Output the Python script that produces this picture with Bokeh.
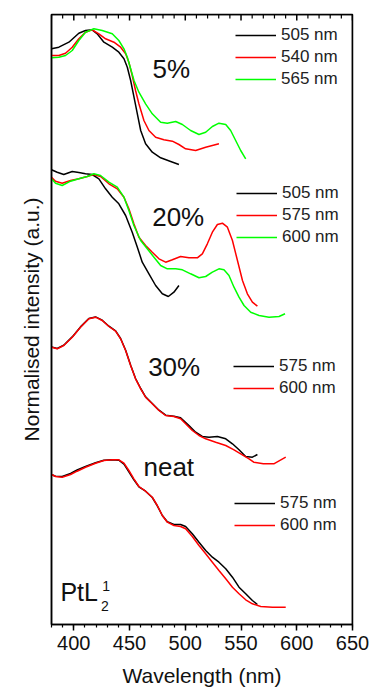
from bokeh.plotting import figure
from bokeh.models import Range1d, Legend, LegendItem, Label, Span
from bokeh.embed import file_html
from bokeh.resources import INLINE

BLACK = "#000000"
RED = "#ff0000"
GREEN = "#00ff00"
TXT = "#111111"

# ---------------- data (stacked normalised intensity, a.u.) ----------------
# 5 %
wl_5_505 = [380, 386.6, 395.6, 404.5, 410.5, 416.5, 421, 427, 434.5, 440.4, 445, 448, 451, 454, 457,
            460, 464.4, 470.4, 477.9, 486.9, 494.3]
in_5_505 = [5.757, 5.773, 5.823, 5.913, 5.94, 5.947, 5.907, 5.823, 5.773, 5.723, 5.657, 5.573, 5.44,
            5.273, 5.107, 4.94, 4.807, 4.723, 4.667, 4.63, 4.60]
wl_5_540 = [380, 386.6, 392.6, 398.6, 404.5, 410.5, 416.5, 422.5, 428.5, 436, 442, 446.5, 449.4, 452.4,
            455.4, 458.4, 462.9, 467.4, 473.4, 480.8, 488.4, 494.3, 500.3, 509.3, 518.3, 530.2]
in_5_540 = [5.69, 5.69, 5.713, 5.773, 5.857, 5.923, 5.947, 5.907, 5.857, 5.823, 5.773, 5.707, 5.623,
            5.49, 5.34, 5.207, 5.04, 4.94, 4.873, 4.847, 4.833, 4.80, 4.757, 4.74, 4.773, 4.807]
wl_5_565 = [380, 386.6, 392.6, 398.6, 404.5, 410.5, 418, 425.5, 434.5, 440.4, 445, 448, 451, 454, 458.4,
            464.4, 470.4, 477.9, 483.9, 491.4, 497.4, 504.8, 512.3, 518.3, 524.3, 530.2, 536.3, 540.7,
            545.2, 549.7, 554.2]
in_5_565 = [5.667, 5.673, 5.69, 5.74, 5.84, 5.923, 5.957, 5.94, 5.907, 5.84, 5.757, 5.673, 5.557, 5.44,
            5.323, 5.207, 5.107, 5.023, 5.013, 5.03, 5.00, 4.94, 4.90, 4.923, 4.98, 5.013, 5.00, 4.94,
            4.84, 4.74, 4.657]

# 20 %
wl_20_505 = [380, 385.1, 391, 398.6, 404.5, 410.5, 416.5, 422.5, 428.5, 434.5, 440.4, 446.5, 452.4, 457,
             461.4, 467.4, 473.4, 479.4, 484.8, 489.8, 494.3]
in_20_505 = [4.547, 4.523, 4.50, 4.53, 4.52, 4.507, 4.50, 4.457, 4.357, 4.273, 4.207, 4.09, 3.923, 3.773,
             3.623, 3.507, 3.39, 3.307, 3.28, 3.323, 3.39]
wl_20_575 = [380, 383.6, 389.6, 397.1, 404.5, 412, 418, 424, 431.5, 439, 445, 449.4, 453.9, 458.4, 464.4,
             470.4, 476.4, 482.4, 488.4, 495.8, 503.3, 510.8, 515.3, 519.8, 524.3, 528.8, 533.3, 537.8,
             542.3, 546.8, 551.3, 555.7, 560.2, 564.7]
in_20_575 = [4.473, 4.433, 4.413, 4.44, 4.457, 4.48, 4.50, 4.48, 4.407, 4.357, 4.273, 4.157, 4.007, 3.873,
             3.79, 3.723, 3.657, 3.623, 3.647, 3.68, 3.667, 3.667, 3.707, 3.807, 3.923, 4.00, 4.013, 3.973,
             3.84, 3.64, 3.44, 3.307, 3.223, 3.183]
wl_20_600 = [380, 383.6, 389.6, 397.1, 404.5, 412, 418, 424, 431.5, 439, 445, 449.4, 453.9, 460, 465.9,
             471.9, 477.9, 483.9, 491.4, 497.4, 504.8, 512.3, 518.3, 524.3, 530.2, 534.7, 539.2, 543.7,
             548.2, 552.7, 558.7, 566.2, 575.1, 584.1, 589.5]
in_20_600 = [4.457, 4.413, 4.39, 4.433, 4.457, 4.48, 4.507, 4.49, 4.423, 4.373, 4.273, 4.14, 3.99, 3.84,
             3.757, 3.673, 3.59, 3.557, 3.557, 3.547, 3.507, 3.467, 3.48, 3.523, 3.557, 3.547, 3.49, 3.373,
             3.273, 3.19, 3.123, 3.09, 3.073, 3.08, 3.107]

# 30 %
wl_30_575 = [380, 385.1, 391, 398.6, 406, 413.5, 419.5, 425.5, 431.5, 437.5, 442, 446.5, 451, 455.4, 460,
             464.4, 470.4, 476.4, 482.4, 489.8, 495.8, 503.3, 509.3, 515.3, 521.3, 528.8, 536.3, 542.3,
             548.2, 554.2, 560.2, 564.7]
in_30_575 = [2.776, 2.76, 2.793, 2.876, 2.976, 3.06, 3.076, 3.043, 2.983, 2.936, 2.86, 2.743, 2.593, 2.46,
             2.36, 2.276, 2.21, 2.143, 2.093, 2.083, 2.067, 1.99, 1.923, 1.88, 1.873, 1.88, 1.857, 1.807,
             1.747, 1.68, 1.673, 1.70]
wl_30_600 = [380, 385.1, 391, 398.6, 406, 413.5, 419.5, 425.5, 431.5, 437.5, 442, 446.5, 451, 455.4, 460,
             464.4, 470.4, 476.4, 482.4, 489.8, 495.8, 500.3, 506.3, 512.3, 518.3, 527.3, 536.3, 543.7,
             549.7, 557.2, 561.4, 570, 579.4, 590.1]
in_30_600 = [2.773, 2.757, 2.79, 2.873, 2.973, 3.057, 3.073, 3.04, 2.98, 2.933, 2.857, 2.74, 2.59, 2.457,
             2.357, 2.273, 2.207, 2.14, 2.09, 2.08, 2.057, 2.007, 1.94, 1.89, 1.857, 1.823, 1.79, 1.747,
             1.707, 1.657, 1.623, 1.607, 1.607, 1.673]

# neat
wl_n_575 = [380, 383.6, 389.6, 397.1, 403, 410.5, 419.5, 427, 434.5, 440.4, 445, 449.4, 453.9, 458.4,
            464.4, 470.4, 474.9, 479.4, 483.9, 489.8, 495.8, 500.3, 506.3, 512.3, 518.3, 524.3, 530.2,
            536.3, 542.3, 548.2, 554.2, 560.2, 564.7]
in_n_575 = [1.50, 1.483, 1.48, 1.51, 1.545, 1.58, 1.617, 1.643, 1.647, 1.643, 1.603, 1.527, 1.447, 1.377,
            1.333, 1.27, 1.187, 1.09, 1.027, 1.0, 1.0, 0.98, 0.907, 0.823, 0.74, 0.673, 0.623, 0.557,
            0.473, 0.373, 0.307, 0.24, 0.20]
wl_n_600 = [380, 383.6, 389.6, 397.1, 403, 410.5, 419.5, 427, 434.5, 440.4, 445, 449.4, 453.9, 458.4,
            464.4, 470.4, 474.9, 479.4, 483.9, 489.8, 495.8, 500.3, 506.3, 512.3, 518.3, 524.3, 530.2,
            536.3, 542.3, 548.2, 554.2, 560.2, 567.7, 578.2, 590.1]
in_n_600 = [1.50, 1.48, 1.473, 1.50, 1.533, 1.573, 1.613, 1.64, 1.647, 1.647, 1.613, 1.54, 1.457, 1.38,
            1.333, 1.273, 1.19, 1.09, 1.023, 0.99, 0.98, 0.957, 0.88, 0.79, 0.707, 0.623, 0.54, 0.457,
            0.373, 0.307, 0.247, 0.207, 0.18, 0.173, 0.173]

x_min, x_max = 380, 650
y_min, y_max = 0, 6.10
x_ticks_interval = 50
x_minor_interval = 10

# ---------------- figure ----------------
p = figure(width=371, height=691, x_range=Range1d(x_min, x_max), y_range=Range1d(y_min, y_max),
           output_backend="svg", toolbar_location=None,
           min_border_left=51, min_border_right=19, min_border_top=14, min_border_bottom=67)
p.xgrid.visible = False
p.ygrid.visible = False
p.outline_line_color = "black"
p.outline_line_width = 1.5

# frame edges (top and right) drawn first
p.add_layout(Span(location=x_max, dimension="height", line_color="black", line_width=1.5))
p.add_layout(Span(location=y_max, dimension="width", line_color="black", line_width=1.5))

xa = p.xaxis[0]
xa.axis_label = "Wavelength (nm)"
xa.axis_label_text_font_size = "21px"
xa.axis_label_text_font_style = "normal"
xa.axis_label_text_color = TXT
xa.axis_label_standoff = 11
xa.major_label_text_font_size = "20px"
xa.major_label_text_color = TXT
xa.major_label_standoff = 5
xa.major_tick_in = 0
xa.major_tick_out = 6
xa.minor_tick_in = 0
xa.minor_tick_out = 3
xa.axis_line_width = 1.5
xa.major_tick_line_width = 1.5
xa.minor_tick_line_width = 1.2
xa.axis_line_color = "black"

ya = p.yaxis[0]
ya.axis_label = "Normalised intensity (a.u.)"
ya.axis_label_text_font_size = "21px"
ya.axis_label_text_font_style = "normal"
ya.axis_label_text_color = TXT
ya.axis_label_standoff = 9
ya.major_label_text_alpha = 0
ya.major_label_standoff = 0
ya.major_tick_in = 0
ya.major_tick_out = 0
ya.minor_tick_in = 0
ya.minor_tick_out = 0
ya.axis_line_width = 1.5

# inward ticks along the top edge (mirror of the bottom axis ticks)
top_minor = [t for t in range(x_min, x_max + 1, x_minor_interval) if t % x_ticks_interval]
top_major = list(range(400, x_max + 1, x_ticks_interval))
p.segment(x0=top_major, x1=top_major, y0=[y_max] * len(top_major), y1=[y_max - 0.06] * len(top_major),
          line_color="black", line_width=1.5)
p.segment(x0=top_minor, x1=top_minor, y0=[y_max] * len(top_minor), y1=[y_max - 0.04] * len(top_minor),
          line_color="black", line_width=1.2)

LW = 1.5

panels = [
    ([(wl_5_505, in_5_505, BLACK, "505 nm"), (wl_5_540, in_5_540, RED, "540 nm"),
      (wl_5_565, in_5_565, GREEN, "565 nm")], (184, 535)),
    ([(wl_20_505, in_20_505, BLACK, "505 nm"), (wl_20_575, in_20_575, RED, "575 nm"),
      (wl_20_600, in_20_600, GREEN, "600 nm")], (185, 377)),
    ([(wl_30_575, in_30_575, BLACK, "575 nm"), (wl_30_600, in_30_600, RED, "600 nm")], (182, 226)),
    ([(wl_n_575, in_n_575, BLACK, "575 nm"), (wl_n_600, in_n_600, RED, "600 nm")], (183, 89)),
]

for series, loc in panels:
    items = []
    for x, y, c, lab in series:
        r = p.line(x, y, line_color=c, line_width=LW)
        items.append(LegendItem(label=lab, renderers=[r]))
    leg = Legend(items=items, location=loc, orientation="vertical",
                 label_text_font_size="17px", label_text_color="#222222",
                 glyph_width=41, glyph_height=20, label_height=20, label_standoff=5, spacing=2,
                 padding=0, margin=0, background_fill_alpha=0, border_line_alpha=0)
    p.add_layout(leg, "center")

# ---------------- annotations ----------------
for txt, x, y in [("5%", 470.6, 5.552), ("20%", 470.3, 4.077), ("30%", 466.7, 2.577), ("neat", 462.5, 1.573)]:
    p.add_layout(Label(x=x, y=y, text=txt, text_font_size="26px",
                       text_align="left", text_baseline="middle", text_color=TXT))

p.add_layout(Label(x=388, y=0.327, text="PtL", text_font_size="25px",
                   text_align="left", text_baseline="middle", text_color=TXT))
p.add_layout(Label(x=425.5, y=0.389, text="1", text_font_size="14px",
                   text_align="left", text_baseline="middle", text_color=TXT))
p.add_layout(Label(x=424.5, y=0.182, text="2", text_font_size="14px",
                   text_align="left", text_baseline="middle", text_color=TXT))

open("out.html", "w").write(file_html(p, INLINE))
